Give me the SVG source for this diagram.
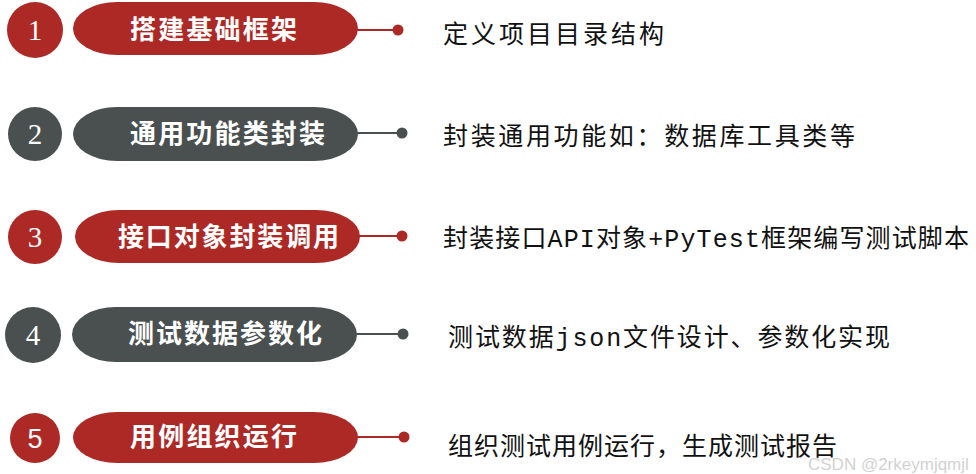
<svg xmlns="http://www.w3.org/2000/svg" width="976" height="474" viewBox="0 0 976 474">
<style>
.red{fill:#AD2926}
.gray{fill:#4A504F}
.lred{stroke:#AD2926;stroke-width:2;fill:none}
.lgray{stroke:#4A504F;stroke-width:2;fill:none}
.num{font-family:"Liberation Serif",serif;font-size:29px;fill:#fff;text-anchor:middle}
.title{font-family:"Noto Sans CJK SC",sans-serif;font-size:26px;font-weight:bold;fill:#fff}
.desc{font-family:"Liberation Mono","Noto Sans CJK SC",monospace;font-size:25px;fill:#111}
.wm{font-family:"Liberation Sans",sans-serif;font-size:17px;fill:#d2d2d2}
</style>
<g id="connectors">
<line class="lred" x1="356" y1="30" x2="398" y2="30"/><circle class="red" cx="398" cy="30" r="5.5"/>
<line class="lgray" x1="356" y1="133" x2="402" y2="133"/><circle class="gray" cx="402" cy="133" r="5.5"/>
<line class="lred" x1="358" y1="236" x2="402" y2="236"/><circle class="red" cx="402" cy="236" r="5.5"/>
<line class="lgray" x1="355" y1="334" x2="403" y2="334"/><circle class="gray" cx="403" cy="334" r="5.5"/>
<line class="lred" x1="356" y1="437" x2="404" y2="437"/><circle class="red" cx="404" cy="437" r="5.5"/>
</g>
<g id="step1">
<circle class="red" cx="35" cy="30" r="28"/>
<text class="num" x="35" y="40">1</text>
<rect class="red" x="73" y="2" width="285" height="53" rx="44" ry="26.5"/>
<text class="title" x="130" y="39" textLength="167" lengthAdjust="spacing">搭建基础框架</text>
<text class="desc" x="443" y="43" textLength="221" lengthAdjust="spacing">定义项目目录结构</text>
</g>
<g id="step2">
<circle class="gray" cx="35" cy="134" r="27"/>
<text class="num" x="35" y="144">2</text>
<rect class="gray" x="73" y="107" width="285" height="54" rx="44" ry="27"/>
<text class="title" x="130" y="143" textLength="195" lengthAdjust="spacing">通用功能类封装</text>
<text class="desc" x="443" y="145" textLength="412" lengthAdjust="spacing">封装通用功能如：数据库工具类等</text>
</g>
<g id="step3">
<circle class="red" cx="35" cy="237" r="27"/>
<text class="num" x="35" y="247">3</text>
<rect class="red" x="75" y="210" width="285" height="53" rx="44" ry="26.5"/>
<text class="title" x="118" y="246" textLength="221" lengthAdjust="spacing">接口对象封装调用</text>
<text class="desc" x="443" y="247" textLength="526" lengthAdjust="spacing">封装接口API对象+PyTest框架编写测试脚本</text>
</g>
<g id="step4">
<circle class="gray" cx="33" cy="335" r="28"/>
<text class="num" x="33" y="345">4</text>
<rect class="gray" x="72" y="307" width="285" height="55" rx="44" ry="27.5"/>
<text class="title" x="128" y="343" textLength="194" lengthAdjust="spacing">测试数据参数化</text>
<text class="desc" x="448" y="346" textLength="442" lengthAdjust="spacing">测试数据json文件设计、参数化实现</text>
</g>
<g id="step5">
<circle class="red" cx="35" cy="438" r="25"/>
<text class="num" x="35" y="448" style="font-family:'Liberation Sans',sans-serif;font-size:27px">5</text>
<rect class="red" x="73" y="412" width="285" height="51" rx="44" ry="25.5"/>
<text class="title" x="130" y="446" textLength="167" lengthAdjust="spacing">用例组织运行</text>
<text class="desc" x="448" y="455" textLength="389" lengthAdjust="spacing">组织测试用例运行，生成测试报告</text>
</g>
<text class="wm" x="808" y="470">CSDN @2rkeymjqmjl</text>
</svg>
